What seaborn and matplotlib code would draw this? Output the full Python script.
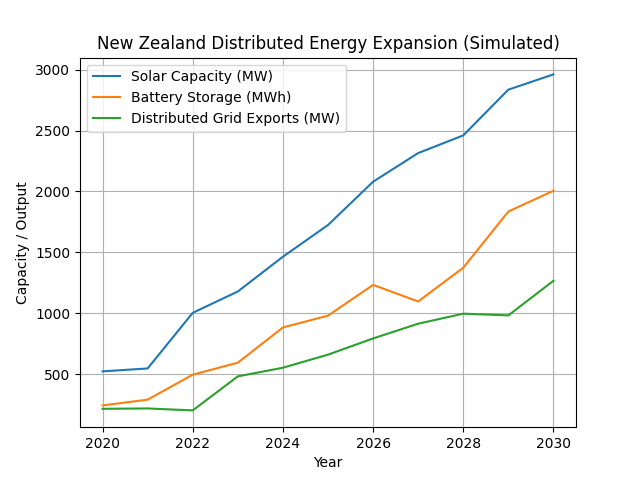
import numpy as np
import pandas as pd
import seaborn as sns
import matplotlib
matplotlib.use("Agg")
import matplotlib.pyplot as plt

# Datos
years = [2020, 2021, 2022, 2023, 2024, 2025, 2026, 2027, 2028, 2029, 2030]
solar = [525, 549, 1005, 1180, 1465, 1725, 2080, 2315, 2460, 2835, 2960]
battery = [246, 293, 498, 596, 885, 982, 1234, 1098, 1375, 1836, 2006]
grid_exports = [218, 221, 205, 484, 555, 662, 795, 916, 998, 984, 1268]

df = pd.DataFrame({
    "Year": years,
    "Solar Capacity (MW)": solar,
    "Battery Storage (MWh)": battery,
    "Distributed Grid Exports (MW)": grid_exports,
})
long_df = df.melt(id_vars="Year", var_name="Series", value_name="Value")

fig, ax = plt.subplots(figsize=(6.4, 4.8), dpi=100)
sns.lineplot(data=long_df, x="Year", y="Value", hue="Series", ax=ax,
             palette=["#1f77b4", "#ff7f0e", "#2ca02c"])
ax.set_title("New Zealand Distributed Energy Expansion (Simulated)")
ax.set_xlabel("Year")
ax.set_ylabel("Capacity / Output")
ax.grid(True)
ax.legend(title=None, loc="upper left")

plt.savefig("out.png")
